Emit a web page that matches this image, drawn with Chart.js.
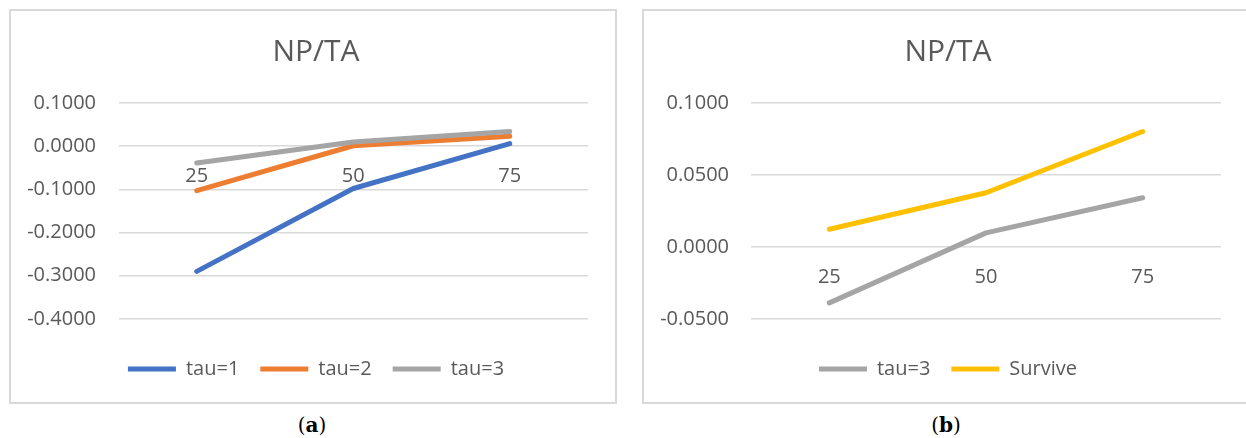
<!DOCTYPE html>
<html><head><meta charset="utf-8">
<script src="https://cdn.jsdelivr.net/npm/chart.js@4/dist/chart.umd.min.js"></script>
<style>
html,body{margin:0;padding:0;background:#fff;width:1246px;height:438px;overflow:hidden;position:relative;font-family:"Open Sans",sans-serif;}
.frame{position:absolute;box-sizing:border-box;border:2px solid #d9d9d9;}
canvas{position:absolute;}
.cap{position:absolute;width:100px;text-align:center;font-family:"DejaVu Serif",serif;font-size:20px;color:#000;line-height:24px;}
</style></head><body>
<div class="frame" style="left:9px;top:9px;width:608px;height:395px"></div>
<div class="frame" style="left:642px;top:9px;width:620px;height:395px"></div>
<canvas id="ca" width="600" height="382" style="left:10px;top:10px"></canvas>
<canvas id="cb" width="600" height="382" style="left:643px;top:10px"></canvas>
<div class="cap" style="left:262px;top:413px">(<b>a</b>)</div>
<div class="cap" style="left:896px;top:413px">(<b>b</b>)</div>
<script>
// ---- data ----
const categories = ['25', '50', '75'];
const tau1A = [-0.290, -0.098, 0.006];
const tau2A = [-0.103, 0.001, 0.023];
const tau3 = [-0.0388, 0.0098, 0.0342];
const survive = [0.0123, 0.0377, 0.0802];
const yTicksA = [-0.4, -0.3, -0.2, -0.1, 0, 0.1];
const yTicksB = [-0.05, 0, 0.05, 0.1];
const titleText = 'NP/TA';

// ---- styles ----
const FONT = "'Open Sans', sans-serif";
const TXT = '#595959';
const COLORS = {blue: '#4472C4', orange: '#ED7D31', gray: '#A5A5A5', yellow: '#FFC000'};

function fmt(v) {
  if (Math.abs(v) < 1e-9) v = 0;
  return Number(v).toFixed(4);
}

function ds(label, data, color, order) {
  return {
    label, data, order, yAxisID: 'y',
    borderColor: color, backgroundColor: color,
    borderWidth: 5, borderCapStyle: 'round', borderJoinStyle: 'round',
    pointRadius: 0, pointHoverRadius: 0, tension: 0, fill: false
  };
}

function makeChart(id, datasets, yMin, yTicks, padLeft, yWidth, tickPad, rightWidth) {
  return new Chart(document.getElementById(id), {
    type: 'line',
    data: {labels: categories, datasets},
    options: {
      responsive: false, animation: false, devicePixelRatio: 1,
      layout: {padding: {left: padLeft, right: 600 - 578 - rightWidth, top: 0, bottom: 3}},
      plugins: {
        title: {display: true, text: titleText, color: TXT,
          font: {family: FONT, size: 30, weight: 'normal'}, padding: {top: 24, bottom: 33}},
        legend: {position: 'bottom',
          labels: {color: TXT, font: {family: FONT, size: 20},
            usePointStyle: true, pointStyle: 'line', pointStyleWidth: 48, padding: 21,
            sort: (a, b) => a.datasetIndex - b.datasetIndex}},
        tooltip: {enabled: false}
      },
      scales: {
        x: {type: 'category', position: {y: 0}, offset: true,
          grid: {display: false, drawTicks: false}, border: {display: false},
          ticks: {color: TXT, font: {family: FONT, size: 20}, padding: 18, maxRotation: 0}},
        y: {type: 'linear', position: 'left', min: yMin, max: 0.1, bounds: 'data',
          grid: {color: '#d9d9d9', lineWidth: 1.5, drawTicks: false}, border: {display: false},
          ticks: {color: TXT, font: {family: FONT, size: 20}, padding: tickPad, callback: v => fmt(v)},
          afterBuildTicks: s => { s.ticks = yTicks.map(v => ({value: v})); },
          afterFit: s => { s.width = yWidth; }},
        yRightSpace: {type: 'linear', position: 'right', display: true,
          grid: {display: false, drawTicks: false}, border: {display: false},
          ticks: {display: false},
          afterFit: s => { s.width = rightWidth; }}
      }
    }
  });
}

makeChart('ca', [
  ds('tau=1', tau1A, COLORS.blue, 3),
  ds('tau=2', tau2A, COLORS.orange, 2),
  ds('tau=3', tau3, COLORS.gray, 1)
], -0.4442, yTicksA, 14, 94.5, 22.5, 20);

makeChart('cb', [
  ds('tau=3', tau3, COLORS.gray, 2),
  ds('Survive', survive, COLORS.yellow, 1)
], -0.0632, yTicksB, 14, 94, 22, 18);
</script>
</body></html>
